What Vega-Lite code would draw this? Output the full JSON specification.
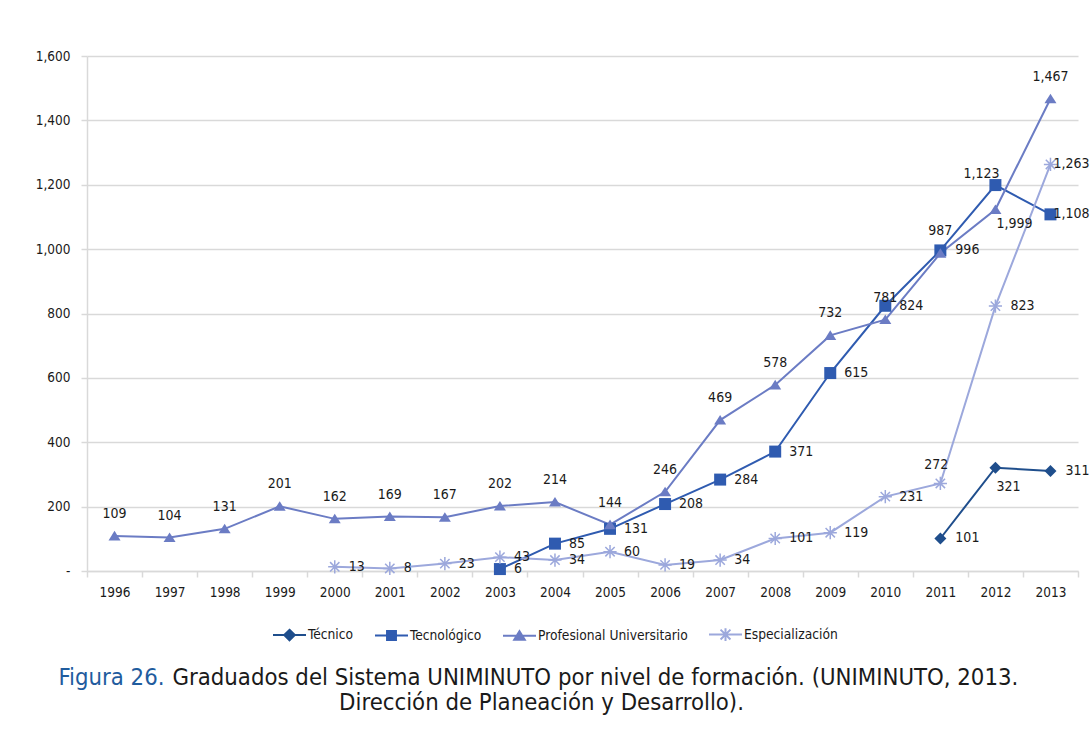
{
  "$schema": "https://vega.github.io/schema/vega-lite/v6.json",
  "autosize": {"type": "none"},
  "width": 991,
  "height": 515,
  "padding": {"left": 87, "top": 56, "right": 12, "bottom": 159},
  "background": "white",
  "config": {
    "font": "DejaVu Sans Condensed, DejaVu Sans",
    "view": {"stroke": null}
  },
  "title": {
    "text": "Dirección de Planeación y Desarrollo).",
    "orient": "bottom",
    "anchor": "middle",
    "frame": "group",
    "dx": -41,
    "offset": 2,
    "fontSize": 23.7,
    "fontWeight": "normal",
    "font": "DejaVu Sans Condensed, DejaVu Sans",
    "color": "#1a1a1a"
  },
  "data": {"values": [
    {"year": 2011, "serie": "Técnico", "value": 101, "label": "101"},
    {"year": 2012, "serie": "Técnico", "value": 321, "label": "321"},
    {"year": 2013, "serie": "Técnico", "value": 311, "label": "311"},
    {"year": 2003, "serie": "Tecnológico", "value": 6, "label": "6"},
    {"year": 2004, "serie": "Tecnológico", "value": 85, "label": "85"},
    {"year": 2005, "serie": "Tecnológico", "value": 131, "label": "131"},
    {"year": 2006, "serie": "Tecnológico", "value": 208, "label": "208"},
    {"year": 2007, "serie": "Tecnológico", "value": 284, "label": "284"},
    {"year": 2008, "serie": "Tecnológico", "value": 371, "label": "371"},
    {"year": 2009, "serie": "Tecnológico", "value": 615, "label": "615"},
    {"year": 2010, "serie": "Tecnológico", "value": 824, "label": "824"},
    {"year": 2011, "serie": "Tecnológico", "value": 996, "label": "996"},
    {"year": 2012, "serie": "Tecnológico", "value": 1199, "label": "1,999"},
    {"year": 2013, "serie": "Tecnológico", "value": 1108, "label": "1,108"},
    {"year": 1996, "serie": "Profesional Universitario", "value": 109, "label": "109"},
    {"year": 1997, "serie": "Profesional Universitario", "value": 104, "label": "104"},
    {"year": 1998, "serie": "Profesional Universitario", "value": 131, "label": "131"},
    {"year": 1999, "serie": "Profesional Universitario", "value": 201, "label": "201"},
    {"year": 2000, "serie": "Profesional Universitario", "value": 162, "label": "162"},
    {"year": 2001, "serie": "Profesional Universitario", "value": 169, "label": "169"},
    {"year": 2002, "serie": "Profesional Universitario", "value": 167, "label": "167"},
    {"year": 2003, "serie": "Profesional Universitario", "value": 202, "label": "202"},
    {"year": 2004, "serie": "Profesional Universitario", "value": 214, "label": "214"},
    {"year": 2005, "serie": "Profesional Universitario", "value": 144, "label": "144"},
    {"year": 2006, "serie": "Profesional Universitario", "value": 246, "label": "246"},
    {"year": 2007, "serie": "Profesional Universitario", "value": 469, "label": "469"},
    {"year": 2008, "serie": "Profesional Universitario", "value": 578, "label": "578"},
    {"year": 2009, "serie": "Profesional Universitario", "value": 732, "label": "732"},
    {"year": 2010, "serie": "Profesional Universitario", "value": 781, "label": "781"},
    {"year": 2011, "serie": "Profesional Universitario", "value": 987, "label": "987"},
    {"year": 2012, "serie": "Profesional Universitario", "value": 1123, "label": "1,123"},
    {"year": 2013, "serie": "Profesional Universitario", "value": 1467, "label": "1,467"},
    {"year": 2000, "serie": "Especialización", "value": 13, "label": "13"},
    {"year": 2001, "serie": "Especialización", "value": 8, "label": "8"},
    {"year": 2002, "serie": "Especialización", "value": 23, "label": "23"},
    {"year": 2003, "serie": "Especialización", "value": 43, "label": "43"},
    {"year": 2004, "serie": "Especialización", "value": 34, "label": "34"},
    {"year": 2005, "serie": "Especialización", "value": 60, "label": "60"},
    {"year": 2006, "serie": "Especialización", "value": 19, "label": "19"},
    {"year": 2007, "serie": "Especialización", "value": 34, "label": "34"},
    {"year": 2008, "serie": "Especialización", "value": 101, "label": "101"},
    {"year": 2009, "serie": "Especialización", "value": 119, "label": "119"},
    {"year": 2010, "serie": "Especialización", "value": 231, "label": "231"},
    {"year": 2011, "serie": "Especialización", "value": 272, "label": "272"},
    {"year": 2012, "serie": "Especialización", "value": 823, "label": "823"},
    {"year": 2013, "serie": "Especialización", "value": 1263, "label": "1,263"}
  ]},
  "encoding": {
    "x": {
      "field": "year", "type": "ordinal", "bandPosition": 0.5,
      "scale": {"type": "band", "paddingInner": 0, "paddingOuter": 0,
        "domain": [1996,1997,1998,1999,2000,2001,2002,2003,2004,2005,2006,2007,2008,2009,2010,2011,2012,2013]},
      "axis": {
        "title": "Figura 26.", "titleX": -29, "titleY": 113, "titleAlign": "left", "titleBaseline": "alphabetic",
        "titleFontSize": 23.7, "titleFontWeight": "normal", "titleColor": "#1f5c9e",
        "titleFont": "DejaVu Sans Condensed, DejaVu Sans",
        "labelAngle": 0, "tickBand": "extent", "grid": false,
        "domainColor": "#d9d9d9", "domainWidth": 1.5, "tickColor": "#d9d9d9", "tickWidth": 1.5, "tickSize": 6,
        "labelFontSize": 13.5, "labelColor": "#1a1a1a", "labelPadding": 8,
        "labelFont": "DejaVu Sans Condensed, DejaVu Sans"
      }
    },
    "y": {
      "field": "value", "type": "quantitative",
      "scale": {"domain": [0, 1600], "nice": false},
      "axis": {
        "title": "Graduados del Sistema UNIMINUTO por nivel de formación. (UNIMINUTO, 2013.",
        "titleAngle": 0, "titleX": 85, "titleY": 628, "titleAlign": "left", "titleBaseline": "alphabetic",
        "titleFontSize": 23.7, "titleFontWeight": "normal", "titleColor": "#1a1a1a",
        "titleFont": "DejaVu Sans Condensed, DejaVu Sans",
        "values": [0,200,400,600,800,1000,1200,1400,1600],
        "labelExpr": "datum.value == 0 ? '-' : format(datum.value, ',')",
        "gridColor": "#d9d9d9", "gridWidth": 1.5,
        "domain": true, "domainColor": "#d9d9d9", "domainWidth": 1.5,
        "tickColor": "#d9d9d9", "tickWidth": 1.5, "tickSize": 6,
        "labelFontSize": 13.5, "labelColor": "#1a1a1a", "labelPadding": 11,
        "labelFont": "DejaVu Sans Condensed, DejaVu Sans"
      }
    }
  },
  "layer": [
    {
      "mark": {"type": "line", "strokeWidth": 2},
      "encoding": {
        "color": {
          "field": "serie", "type": "nominal",
          "scale": {"domain": ["Técnico", "Tecnológico", "Profesional Universitario", "Especialización"],
                    "range": ["#1f4e8c", "#2f5bb0", "#6b7cc4", "#9ca8dc"]},
          "legend": {
            "title": null, "orient": "none", "direction": "horizontal",
            "legendX": 185, "legendY": 561,
            "symbolSize": 1089, "symbolStrokeWidth": 2,
            "labelFontSize": 13.7, "labelColor": "#1a1a1a", "labelOffset": 1,
            "labelFont": "DejaVu Sans Condensed, DejaVu Sans",
            "columnPadding": 17,
            "encode": {
              "symbols": {"update": {
                "shape": {"signal": "datum.value === 'Técnico' ? 'M-1,0H1M0,-0.32L0.32,0L0,0.32L-0.32,0Z' : datum.value === 'Tecnológico' ? 'M-1,0H1M-0.27,-0.27H0.27V0.27H-0.27Z' : datum.value === 'Profesional Universitario' ? 'M-1,0H1M0,-0.28L0.32,0.24H-0.32Z' : 'M-1,0H1M0,-0.38V0.38M-0.3,-0.3L0.3,0.3M-0.3,0.3L0.3,-0.3'"},
                "fill": {"signal": "scale('color', datum.value)"},
                "stroke": {"signal": "scale('color', datum.value)"},
                "strokeWidth": {"value": 2},
                "opacity": {"value": 1}
              }}
            }
          }
        }
      }
    },
    {
      "transform": [{"filter": "datum.serie === 'Técnico'"}],
      "mark": {"type": "point", "filled": true, "size": 144, "strokeWidth": 1.5, "opacity": 1, "color": "#1f4e8c", "shape": "M0,-1L1,0L0,1L-1,0Z"}
    },
    {
      "transform": [{"filter": "datum.serie === 'Tecnológico'"}],
      "mark": {"type": "point", "filled": true, "size": 144, "strokeWidth": 1.5, "opacity": 1, "color": "#2f5bb0", "shape": "M-1,-1H1V1H-1Z"}
    },
    {
      "transform": [{"filter": "datum.serie === 'Profesional Universitario'"}],
      "mark": {"type": "point", "filled": true, "size": 144, "strokeWidth": 1.5, "opacity": 1, "color": "#6b7cc4", "shape": "M0,-0.85L1,0.75H-1Z"}
    },
    {
      "transform": [{"filter": "datum.serie === 'Especialización'"}],
      "mark": {"type": "point", "filled": false, "size": 144, "strokeWidth": 1.5, "opacity": 1, "color": "#9ca8dc", "shape": "M0,-1.1V1.1M-1.1,0H1.1M-0.78,-0.78L0.78,0.78M-0.78,0.78L0.78,-0.78"}
    },
    {
      "transform": [{"filter": "datum.serie === 'Profesional Universitario' && datum.year !== 2012"}],
      "mark": {"type": "text", "dy": -22, "align": "center", "baseline": "middle", "fontSize": 14, "color": "#1a1a1a", "font": "DejaVu Sans Condensed, DejaVu Sans"},
      "encoding": {"text": {"field": "label"}}
    },
    {
      "transform": [{"filter": "datum.serie === 'Profesional Universitario' && datum.year === 2012"}],
      "mark": {"type": "text", "dx": -14, "dy": -36, "align": "center", "baseline": "middle", "fontSize": 14, "color": "#1a1a1a", "font": "DejaVu Sans Condensed, DejaVu Sans"},
      "encoding": {"text": {"field": "label"}}
    },
    {
      "transform": [{"filter": "datum.serie !== 'Profesional Universitario' && datum.year < 2011"}],
      "mark": {"type": "text", "dx": 14, "align": "left", "baseline": "middle", "fontSize": 14, "color": "#1a1a1a", "font": "DejaVu Sans Condensed, DejaVu Sans"},
      "encoding": {"text": {"field": "label"}}
    },
    {
      "transform": [{"filter": "(datum.serie === 'Tecnológico' && datum.year === 2011) || (datum.serie === 'Técnico' && datum.year === 2011) || (datum.serie === 'Técnico' && datum.year === 2013) || (datum.serie === 'Especialización' && datum.year === 2012)"}],
      "mark": {"type": "text", "dx": 15, "align": "left", "baseline": "middle", "fontSize": 14, "color": "#1a1a1a", "font": "DejaVu Sans Condensed, DejaVu Sans"},
      "encoding": {"text": {"field": "label"}}
    },
    {
      "transform": [{"filter": "datum.serie === 'Especialización' && datum.year === 2011"}],
      "mark": {"type": "text", "dx": -4, "dy": -18, "align": "center", "baseline": "middle", "fontSize": 14, "color": "#1a1a1a", "font": "DejaVu Sans Condensed, DejaVu Sans"},
      "encoding": {"text": {"field": "label"}}
    },
    {
      "transform": [{"filter": "datum.serie === 'Técnico' && datum.year === 2012"}],
      "mark": {"type": "text", "dx": 1, "dy": 19, "align": "left", "baseline": "middle", "fontSize": 14, "color": "#1a1a1a", "font": "DejaVu Sans Condensed, DejaVu Sans"},
      "encoding": {"text": {"field": "label"}}
    },
    {
      "transform": [{"filter": "datum.serie === 'Tecnológico' && datum.year === 2012"}],
      "mark": {"type": "text", "dx": 1, "dy": 39, "align": "left", "baseline": "middle", "fontSize": 14, "color": "#1a1a1a", "font": "DejaVu Sans Condensed, DejaVu Sans"},
      "encoding": {"text": {"field": "label"}}
    },
    {
      "transform": [{"filter": "(datum.serie === 'Tecnológico' || datum.serie === 'Especialización') && datum.year === 2013"}],
      "mark": {"type": "text", "dx": 3, "align": "left", "baseline": "middle", "fontSize": 14, "color": "#1a1a1a", "font": "DejaVu Sans Condensed, DejaVu Sans"},
      "encoding": {"text": {"field": "label"}}
    }
  ]
}
